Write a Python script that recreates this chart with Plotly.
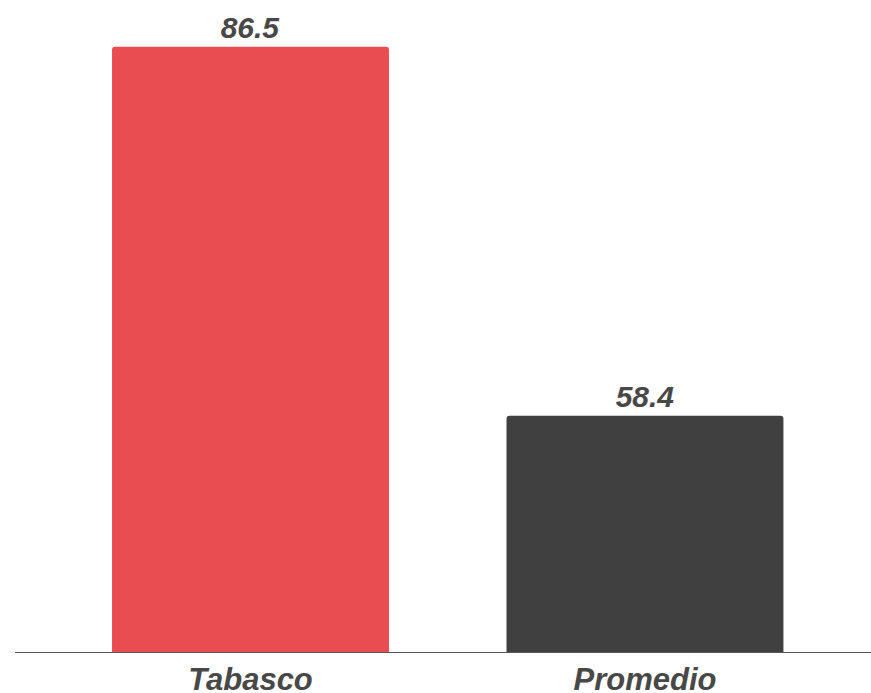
import plotly.graph_objects as go

categories = ["Tabasco", "Promedio"]
values = [86.5, 58.4]
colors = ["#E94C51", "#404040"]
text_labels = ["86.5", "58.4"]

fig = go.Figure(
    go.Bar(
        x=categories,
        y=values,
        marker=dict(color=colors, line=dict(width=0), cornerradius=3),
        text=text_labels,
        textposition="outside",
        textfont=dict(family="Liberation Sans", size=30, color="#484848", weight="bold", style="italic"),
        cliponaxis=False,
        width=0.702,
    )
)

fig.update_layout(
    width=871,
    height=693,
    margin=dict(l=15, r=0, t=0, b=41, autoexpand=False),
    paper_bgcolor="white",
    plot_bgcolor="white",
    showlegend=False,
    xaxis=dict(
        range=[-0.597, 1.573],
        automargin=False,
        showline=True,
        linecolor="#555555",
        linewidth=1,
        showgrid=False,
        zeroline=False,
        ticks="",
        tickfont=dict(family="Liberation Sans", size=31, color="#484848", weight="bold", style="italic"),
    ),
    yaxis=dict(
        range=[40.4, 90.06],
        visible=False,
        automargin=False,
        showgrid=False,
        zeroline=False,
    ),
)

fig.write_html(
    "out.html",
    config={"displayModeBar": False},
    post_script="document.body.style.margin='0';",
)
